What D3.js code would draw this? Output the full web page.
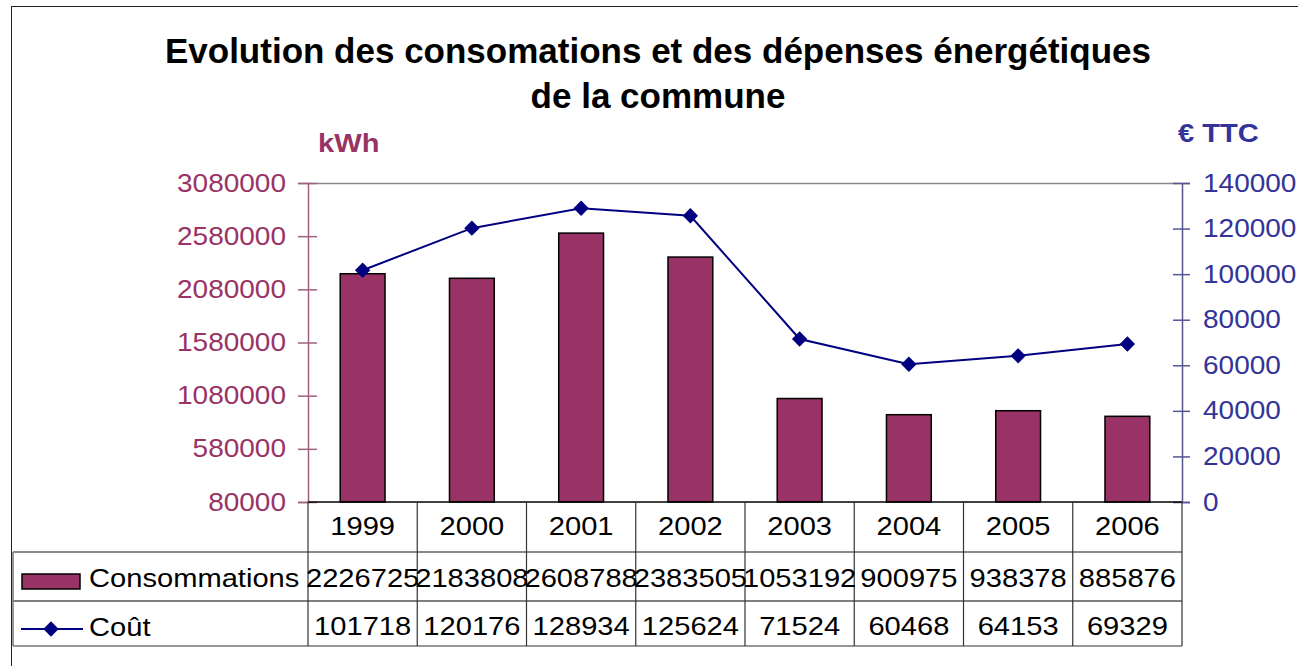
<!DOCTYPE html>
<html>
<head>
<meta charset="utf-8">
<script src="https://cdn.jsdelivr.net/npm/d3@7"></script>
<style>
  body { margin: 0; background: #fff; }
  svg { font-family: "Liberation Sans", Arial, sans-serif; }
</style>
</head>
<body>
<div id="canvas"></div>
<script>
var years = ['1999', '2000', '2001', '2002', '2003', '2004', '2005', '2006'];
var consommations = [2226725, 2183808, 2608788, 2383505, 1053192, 900975, 938378, 885876];
var cout = [101718, 120176, 128934, 125624, 71524, 60468, 64153, 69329];
var kwhTicks = [80000, 580000, 1080000, 1580000, 2080000, 2580000, 3080000];
var euroTicks = [0, 20000, 40000, 60000, 80000, 100000, 120000, 140000];

var W = 1298, H = 666;
var m = {t: 183, l: 308, r: 1182, b: 502};
var SX = 1.12; // original text is a bit wider than Arial

var svg = d3.select('#canvas').append('svg')
    .attr('width', W).attr('height', H);

// widen a text horizontally around its own x position
function stretch(sel) {
  sel.each(function() {
    var t = d3.select(this);
    var tx = +t.attr('x') || 0, ty = +t.attr('y') || 0;
    t.attr('x', 0).attr('y', 0)
     .attr('transform', 'translate(' + tx + ',' + ty + ') scale(' + SX + ',1)');
  });
}

// outer frame
svg.append('rect')
    .attr('x', 11.5).attr('y', 6.5)
    .attr('width', W + 20).attr('height', H + 20)
    .attr('fill', 'none').attr('stroke', '#222').attr('stroke-width', 1);

// title
svg.append('text').attr('x', 658).attr('y', 63)
    .attr('text-anchor', 'middle').style('font-size', '35px').style('font-weight', 'bold')
    .text('Evolution des consomations et des dépenses énergétiques');
svg.append('text').attr('x', 658).attr('y', 108)
    .attr('text-anchor', 'middle').style('font-size', '35px').style('font-weight', 'bold')
    .text('de la commune');

svg.append('text').attr('x', 318).attr('y', 152)
    .style('font-size', '26px').style('font-weight', 'bold').attr('fill', '#993366')
    .text('kWh').call(stretch);
svg.append('text').attr('x', 1178).attr('y', 142)
    .style('font-size', '26px').style('font-weight', 'bold').attr('fill', '#333399')
    .text('€ TTC').call(stretch);

// scales
var x = d3.scaleBand().domain(years).range([m.l, m.r]).padding(0);
var yL = d3.scaleLinear().domain([80000, 3080000]).range([m.b, m.t]);
var yR = d3.scaleLinear().domain([0, 140000]).range([m.b, m.t]);

// plot area top border
svg.append('line').attr('x1', m.l).attr('x2', m.r)
    .attr('y1', m.t + 0.5).attr('y2', m.t + 0.5)
    .attr('stroke', '#888').attr('stroke-width', 1.5);

// bars
var barW = x.bandwidth() * 0.41;
svg.selectAll('.bar').data(consommations).enter()
    .append('rect')
    .attr('class', 'bar')
    .attr('x', function(d, i) { return x(years[i]) + x.bandwidth() / 2 - barW / 2; })
    .attr('y', function(d) { return yL(d); })
    .attr('width', barW)
    .attr('height', function(d) { return yL(80000) - yL(d); })
    .attr('fill', '#993366')
    .attr('stroke', '#000').attr('stroke-width', 1.5);

// line
var line = d3.line()
    .x(function(d, i) { return x(years[i]) + x.bandwidth() / 2; })
    .y(function(d) { return yR(d); });
svg.append('path').datum(cout)
    .attr('d', line)
    .attr('fill', 'none').attr('stroke', '#000080').attr('stroke-width', 2);
svg.selectAll('.pt').data(cout).enter()
    .append('path')
    .attr('class', 'pt')
    .attr('d', d3.symbol().type(d3.symbolDiamond2).size(150))
    .attr('transform', function(d, i) {
      return 'translate(' + (x(years[i]) + x.bandwidth() / 2) + ',' + yR(d) + ')';
    })
    .attr('fill', '#000080');

// axes
var axL = svg.append('g').attr('transform', 'translate(' + m.l + ',0)')
    .call(d3.axisLeft(yL).tickValues(kwhTicks).tickFormat(d3.format('d')).tickSize(10).tickPadding(12));
axL.select('.domain').attr('stroke', '#a0607f').attr('stroke-width', 1.5);
axL.selectAll('.tick line').attr('x1', 9).attr('x2', -10).attr('stroke', '#a0607f').attr('stroke-width', 1.5);
axL.selectAll('.tick text').attr('fill', '#993366').style('font-size', '25px')
    .style('font-family', '"Liberation Sans", Arial, sans-serif').call(stretch);

var axR = svg.append('g').attr('transform', 'translate(' + m.r + ',0)')
    .call(d3.axisRight(yR).tickValues(euroTicks).tickFormat(d3.format('d')).tickSize(8).tickPadding(13));
axR.select('.domain').attr('stroke', '#555588').attr('stroke-width', 1.5);
axR.selectAll('.tick line').attr('x1', -9).attr('x2', 8).attr('stroke', '#555599').attr('stroke-width', 1.5);
axR.selectAll('.tick text').attr('fill', '#333399').style('font-size', '25px')
    .style('font-family', '"Liberation Sans", Arial, sans-serif').call(stretch);

// bottom axis line
svg.append('line').attr('x1', m.l).attr('x2', m.r)
    .attr('y1', m.b).attr('y2', m.b).attr('stroke', '#000').attr('stroke-width', 1.5);

// data table
var rowY = [502, 552, 601, 646];
var tableLeft = 13;
var tbl = svg.append('g');

tbl.append('line').attr('x1', tableLeft).attr('x2', m.r).attr('y1', rowY[1]).attr('y2', rowY[1])
    .attr('stroke', '#666').attr('stroke-width', 1.5);
tbl.append('line').attr('x1', tableLeft).attr('x2', m.r).attr('y1', rowY[2]).attr('y2', rowY[2])
    .attr('stroke', '#000').attr('stroke-width', 1.2);
tbl.append('line').attr('x1', tableLeft).attr('x2', m.r).attr('y1', rowY[3]).attr('y2', rowY[3])
    .attr('stroke', '#777').attr('stroke-width', 1.5);
tbl.append('line').attr('x1', tableLeft).attr('x2', tableLeft).attr('y1', rowY[1]).attr('y2', rowY[3])
    .attr('stroke', '#777').attr('stroke-width', 1.5);

var edges = years.map(function(d) { return x(d); }).concat([m.r]);
tbl.selectAll('.col').data(edges).enter()
    .append('line').attr('class', 'col')
    .attr('x1', function(d) { return d; }).attr('x2', function(d) { return d; })
    .attr('y1', rowY[0]).attr('y2', rowY[3])
    .attr('stroke', '#333').attr('stroke-width', 1.2);

function rowText(vals, baseline) {
  tbl.selectAll(null).data(vals).enter()
      .append('text')
      .attr('x', function(d, i) { return x(years[i]) + x.bandwidth() / 2; })
      .attr('y', baseline)
      .attr('text-anchor', 'middle')
      .style('font-size', '26px')
      .attr('fill', '#000')
      .text(function(d) { return d; })
      .call(stretch);
}
rowText(years, 535);
rowText(consommations, 587);
rowText(cout, 635);

// legend keys
tbl.append('rect').attr('x', 22).attr('y', 574).attr('width', 58).attr('height', 15)
    .attr('fill', '#993366').attr('stroke', '#000').attr('stroke-width', 1.5);
tbl.append('text').attr('x', 89).attr('y', 587).style('font-size', '26px').text('Consommations').call(stretch);
tbl.append('line').attr('x1', 21).attr('x2', 83).attr('y1', 629).attr('y2', 629)
    .attr('stroke', '#000080').attr('stroke-width', 2);
tbl.append('path')
    .attr('d', d3.symbol().type(d3.symbolDiamond2).size(150))
    .attr('transform', 'translate(51,629)')
    .attr('fill', '#000080');
tbl.append('text').attr('x', 89).attr('y', 636).style('font-size', '26px').text('Coût').call(stretch);
</script>
</body>
</html>
